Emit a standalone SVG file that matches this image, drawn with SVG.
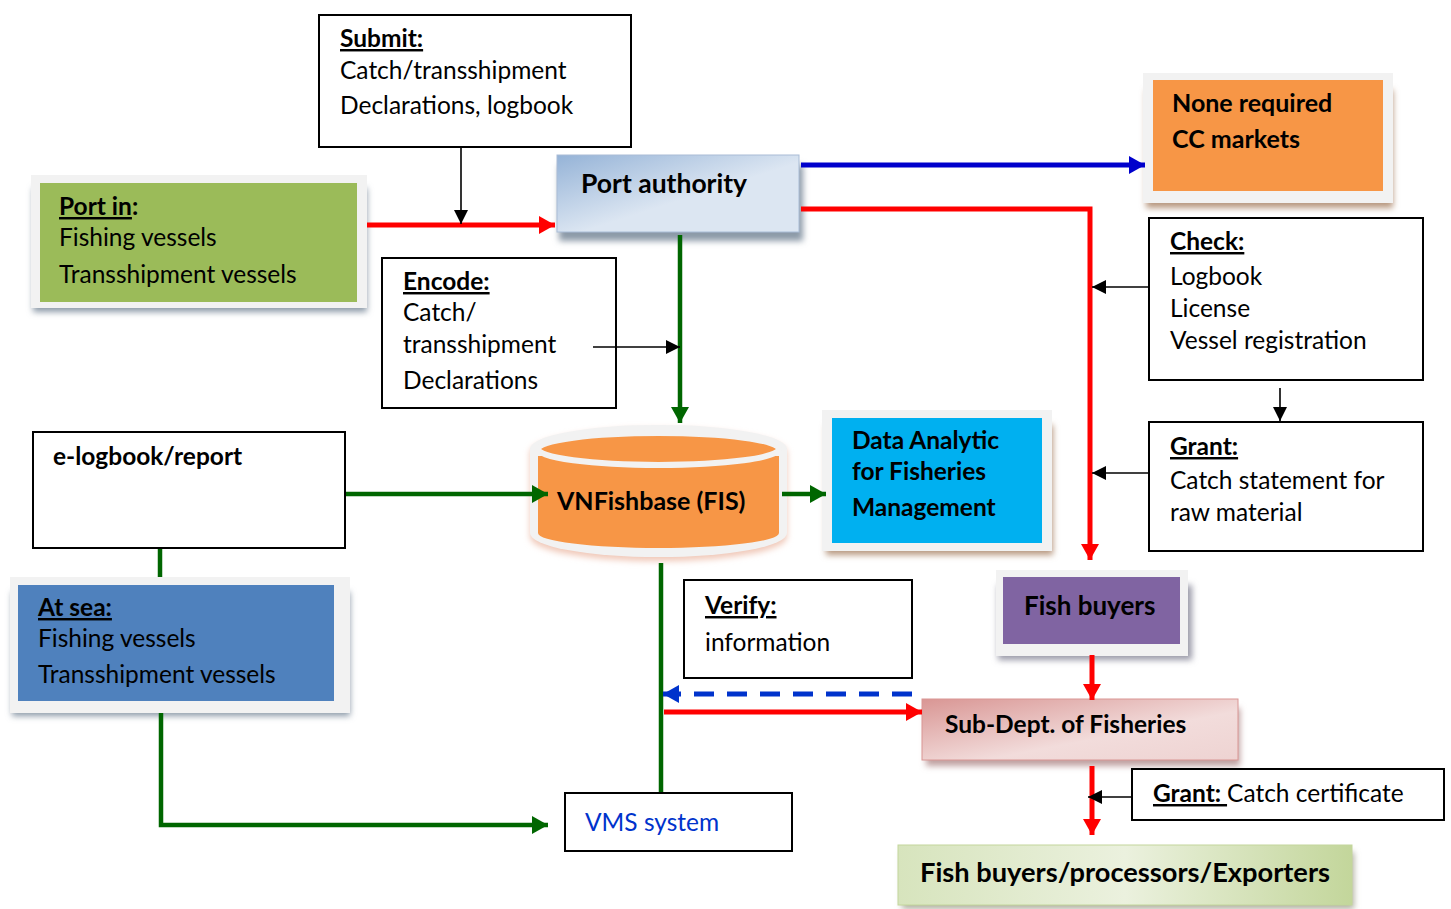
<svg xmlns="http://www.w3.org/2000/svg" width="1451" height="909" viewBox="0 0 1451 909">
<style>
text{font-family:Lato,"Open Sans","Liberation Sans",sans-serif;fill:#000;font-size:24.5px}
.b{font-weight:bold}
.u{text-decoration:underline;font-weight:bold}
.box{fill:#fff;stroke:#000;stroke-width:2}
.frame{fill:#f2f2f2}
.red{stroke:#ff0000;stroke-width:5;fill:none}
.grn{stroke:#006600;stroke-width:4.5;fill:none}
.blu{stroke:#0000cc;stroke-width:5;fill:none}
.blk{stroke:#000;stroke-width:1.6;fill:none}
</style>
<defs>
<filter id="sh" x="-10%" y="-20%" width="120%" height="150%"><feGaussianBlur stdDeviation="3"/></filter>
<marker id="ar" markerUnits="userSpaceOnUse" markerWidth="18" markerHeight="18" refX="16" refY="9" orient="auto"><path d="M0,0 L16,9 L0,18 z" fill="#ff0000"/></marker>
<marker id="ag" markerUnits="userSpaceOnUse" markerWidth="18" markerHeight="18" refX="16" refY="9" orient="auto"><path d="M0,0 L16,9 L0,18 z" fill="#006600"/></marker>
<marker id="ab" markerUnits="userSpaceOnUse" markerWidth="18" markerHeight="18" refX="16" refY="9" orient="auto"><path d="M0,0 L16,9 L0,18 z" fill="#0000cc"/></marker>
<marker id="ad" markerUnits="userSpaceOnUse" markerWidth="18" markerHeight="18" refX="16" refY="9" orient="auto"><path d="M0,0 L16,9 L0,18 z" fill="#0033cc"/></marker>
<marker id="ak" markerUnits="userSpaceOnUse" markerWidth="14" markerHeight="14" refX="14" refY="7" orient="auto"><path d="M0,0 L14,7 L0,14 z" fill="#000"/></marker>
<linearGradient id="gPA" x1="0" y1="0" x2="1" y2="1"><stop offset="0" stop-color="#95B3D7"/><stop offset="0.55" stop-color="#DCE6F2"/><stop offset="1" stop-color="#DCE6F2"/></linearGradient>
<linearGradient id="gSD" x1="0" y1="0" x2="1" y2="1"><stop offset="0" stop-color="#D99694"/><stop offset="0.6" stop-color="#F2DCDB"/><stop offset="1" stop-color="#EED3D2"/></linearGradient>
<linearGradient id="gFP" x1="0" y1="0" x2="1" y2="0"><stop offset="0" stop-color="#D7E4BD"/><stop offset="0.5" stop-color="#EBF1DE"/><stop offset="1" stop-color="#C3D69B"/></linearGradient>
</defs>

<g id="submit">
<rect class="box" x="319" y="15" width="312" height="132"/>
<text x="340" y="47" class="u">Submit:</text>
<text x="340" y="79">Catch/transshipment</text>
<text x="340" y="114">Declarations, logbook</text>
</g>

<g id="port-in">
<rect x="33" y="188" width="334" height="124" fill="#8c9aa8" filter="url(#sh)"/>
<rect class="frame" x="31" y="175" width="336" height="133"/>
<rect x="40" y="183" width="317" height="119" fill="#9BBB59"/>
<text x="59" y="215"><tspan class="u">Port in</tspan><tspan class="b">:</tspan></text>
<text x="59" y="246">Fishing vessels</text>
<text x="59" y="283">Transshipment vessels</text>
</g>

<g id="port-authority">
<rect x="559" y="165" width="244" height="76" fill="#8c9aa8" filter="url(#sh)"/>
<rect x="557" y="155" width="242" height="77" fill="url(#gPA)" stroke="#a9bcd6" stroke-width="1"/>
<text class="b" x="581" y="193" style="font-size:26.5px">Port authority</text>
</g>

<g id="none-required">
<rect x="1146" y="90" width="247" height="118" fill="#b89880" filter="url(#sh)"/>
<rect class="frame" x="1143" y="73" width="250" height="130"/>
<rect x="1153" y="80" width="230" height="111" fill="#F79646"/>
<text class="b" x="1172" y="112" style="font-size:25px">None required</text>
<text class="b" x="1172" y="148" style="font-size:25px">CC markets</text>
</g>

<g id="check">
<rect class="box" x="1149" y="218" width="274" height="162"/>
<text x="1170" y="250" class="u">Check:</text>
<text x="1170" y="285">Logbook</text>
<text x="1170" y="317">License</text>
<text x="1170" y="349">Vessel registration</text>
</g>

<g id="grant-statement">
<rect class="box" x="1149" y="422" width="274" height="129"/>
<text x="1170" y="455" class="u">Grant:</text>
<text x="1170" y="489">Catch statement for</text>
<text x="1170" y="521">raw material</text>
</g>

<g id="encode">
<rect class="box" x="382" y="258" width="234" height="150"/>
<text x="403" y="290" class="u">Encode:</text>
<text x="403" y="321">Catch/</text>
<text x="403" y="353">transshipment</text>
<text x="403" y="389">Declarations</text>
</g>

<g id="elogbook">
<rect class="box" x="33" y="432" width="312" height="116"/>
<text class="b" x="53" y="465">e-logbook/report</text>
</g>

<g id="vnfishbase">
<path d="M530,449 A128,24 0 0 1 787,449 L787,533 A128,24 0 0 1 530,533 Z" fill="#f0c8b8" filter="url(#sh)" transform="translate(0,4)"/>
<path d="M530,449 A128,24 0 0 1 787,449 L787,533 A128,24 0 0 1 530,533 Z" fill="#f2f2f2"/>
<path d="M538,456 L779,456 L779,533 A120.5,15 0 0 1 538,533 Z" fill="#F79646"/>
<ellipse cx="658.5" cy="449" rx="120.5" ry="16" fill="#F79646" stroke="#f2f2f2" stroke-width="6"/>
<text class="b" x="557" y="510" style="font-size:25px">VNFishbase (FIS)</text>
</g>

<g id="data-analytic">
<rect x="826" y="425" width="227" height="130" fill="#b89880" filter="url(#sh)"/>
<rect class="frame" x="822" y="410" width="230" height="141"/>
<rect x="832" y="418" width="210" height="125" fill="#00B0F0"/>
<text class="b" x="852" y="449">Data Analytic</text>
<text class="b" x="852" y="480">for Fisheries</text>
<text class="b" x="852" y="516">Management</text>
</g>

<g id="at-sea">
<rect x="12" y="592" width="338" height="124" fill="#8c9aa8" filter="url(#sh)"/>
<rect class="frame" x="10" y="577" width="340" height="136"/>
<rect x="18" y="585" width="316" height="116" fill="#4F81BD"/>
<text x="38" y="616" class="u">At sea:</text>
<text x="38" y="647">Fishing vessels</text>
<text x="38" y="683">Transshipment vessels</text>
</g>

<g id="verify">
<rect class="box" x="684" y="580" width="228" height="98"/>
<text x="705" y="614" class="u">Verify:</text>
<text x="705" y="651">information</text>
</g>

<g id="fish-buyers">
<rect x="998" y="585" width="194" height="75" fill="#9a9aa8" filter="url(#sh)"/>
<rect class="frame" x="996" y="570" width="192" height="86"/>
<rect x="1003" y="577" width="177" height="67" fill="#8064A2"/>
<text class="b" x="1024" y="615" style="font-size:26px">Fish buyers</text>
</g>

<g id="sub-dept">
<rect x="926" y="708" width="314" height="58" fill="#c0a0a0" filter="url(#sh)"/>
<rect x="922" y="699" width="316" height="61" fill="url(#gSD)" stroke="#d99694" stroke-width="1"/>
<text class="b" x="945" y="733">Sub-Dept. of Fisheries</text>
</g>

<g id="grant-cc">
<rect class="box" x="1132" y="769" width="312" height="51"/>
<text x="1153" y="802"><tspan class="u">Grant: </tspan><tspan>Catch certificate</tspan></text>
</g>

<g id="vms">
<rect class="box" x="565" y="793" width="227" height="58"/>
<text x="585" y="831" style="fill:#0033cc">VMS system</text>
</g>

<g id="exporters">
<rect x="902" y="852" width="452" height="57" fill="#b0b0a0" filter="url(#sh)"/>
<rect x="898" y="845" width="454" height="60" fill="url(#gFP)" stroke="#c3d69b" stroke-width="1"/>
<text class="b" x="920" y="882" style="font-size:26px" textLength="410" lengthAdjust="spacingAndGlyphs">Fish buyers/processors/Exporters</text>
</g>

<g id="connectors">
<line class="red" x1="367" y1="225" x2="555" y2="225" marker-end="url(#ar)"/>
<line class="blk" x1="461" y1="147" x2="461" y2="224" marker-end="url(#ak)"/>
<line class="blu" x1="801" y1="165" x2="1145" y2="165" marker-end="url(#ab)"/>
<path class="red" d="M801,209 L1090,209 L1090,560" marker-end="url(#ar)"/>
<line class="blk" x1="1149" y1="287" x2="1092" y2="287" marker-end="url(#ak)"/>
<line class="blk" x1="1280" y1="388" x2="1280" y2="421" marker-end="url(#ak)"/>
<line class="blk" x1="1149" y1="473" x2="1092" y2="473" marker-end="url(#ak)"/>
<line class="grn" x1="680" y1="235" x2="680" y2="423" marker-end="url(#ag)"/>
<line class="blk" x1="593" y1="347" x2="680" y2="347" marker-end="url(#ak)"/>
<line class="grn" x1="346" y1="494" x2="548" y2="494" marker-end="url(#ag)"/>
<line class="grn" x1="782" y1="494" x2="826" y2="494" marker-end="url(#ag)"/>
<line class="grn" x1="160" y1="549" x2="160" y2="577"/>
<path class="grn" d="M161,713 L161,825 L548,825" marker-end="url(#ag)"/>
<line class="grn" x1="661" y1="563" x2="661" y2="792"/>
<line stroke="#0033cc" stroke-width="5" stroke-dasharray="20,13" x1="912" y1="694" x2="663" y2="694" marker-end="url(#ad)"/>
<line class="red" x1="664" y1="712" x2="922" y2="712" marker-end="url(#ar)"/>
<line class="red" x1="1092" y1="655" x2="1092" y2="700" marker-end="url(#ar)"/>
<line class="red" x1="1092" y1="766" x2="1092" y2="835" marker-end="url(#ar)"/>
<line class="blk" x1="1132" y1="797" x2="1088" y2="797" marker-end="url(#ak)"/>
</g>
</svg>
